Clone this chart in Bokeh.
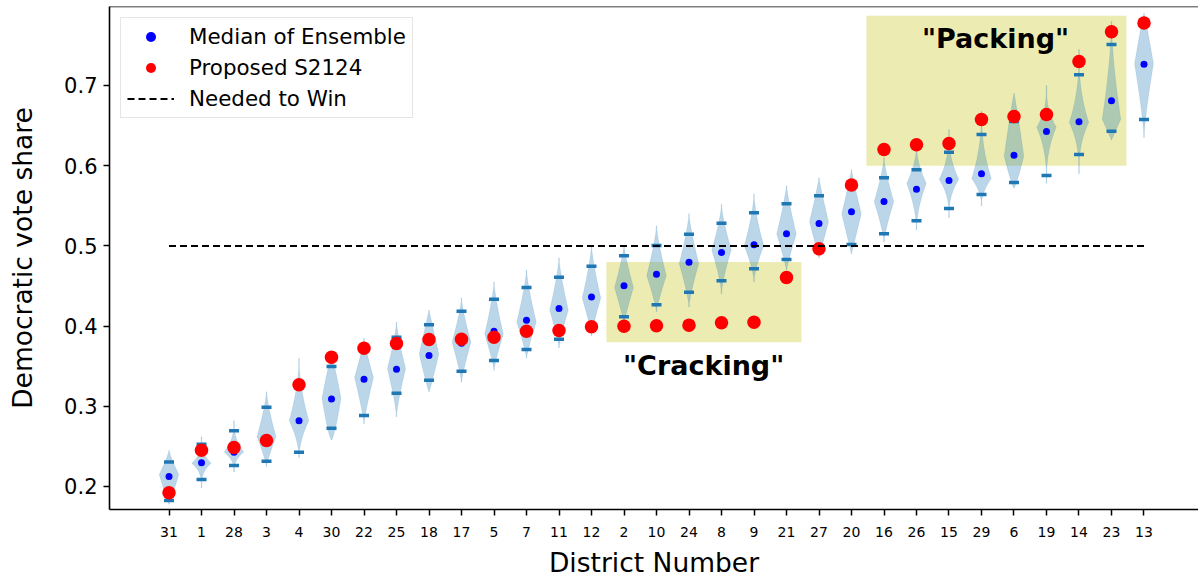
import numpy as np
from bokeh.plotting import figure
from bokeh.models import Range1d, FixedTicker, Span, Legend, LegendItem, Label
from bokeh.embed import file_html
from bokeh.resources import INLINE

# ---------------- data ----------------
districts = ["31", "1", "28", "3", "4", "30", "22", "25", "18", "17", "5", "7", "11", "12", "2",
             "10", "24", "8", "9", "21", "27", "20", "16", "26", "15", "29", "6", "19", "14", "23", "13"]

median = [0.2125, 0.2295, 0.2428, 0.2590, 0.2820, 0.3090, 0.3336, 0.3463, 0.3633, 0.3787, 0.3937,
          0.4074, 0.4219, 0.4363, 0.4502, 0.4647, 0.4797, 0.4918, 0.5014, 0.5151, 0.5279, 0.5427,
          0.5554, 0.5707, 0.5815, 0.5899, 0.6131, 0.6426, 0.6547, 0.6809, 0.7266]

proposed = [0.1921, 0.2453, 0.2486, 0.2574, 0.3268, 0.3612, 0.3725, 0.3783, 0.3833, 0.3837, 0.3862,
            0.3937, 0.3945, 0.3993, 0.3999, 0.4004, 0.4012, 0.4041, 0.4049, 0.4606, 0.4964, 0.5760,
            0.6202, 0.6261, 0.6277, 0.6576, 0.6613, 0.6638, 0.7299, 0.7669, 0.7778]

cap_lo = [0.1825, 0.2087, 0.2262, 0.2316, 0.2428, 0.2727, 0.2885, 0.3163, 0.3326, 0.3438, 0.3571,
          0.3708, 0.3837, 0.3970, 0.4116, 0.4266, 0.4423, 0.4565, 0.4714, 0.4830, 0.4990, 0.5017,
          0.5151, 0.5313, 0.5466, 0.5641, 0.5791, 0.5878, 0.6140, 0.6430, 0.6576]

cap_hi = [0.2305, 0.2527, 0.2694, 0.2989, 0.3260, 0.3496, 0.3700, 0.3862, 0.4016, 0.4186, 0.4336,
          0.4481, 0.4610, 0.4745, 0.4876, 0.5005, 0.5146, 0.5283, 0.5413, 0.5525, 0.5625, 0.5740,
          0.5849, 0.5949, 0.6168, 0.6389, 0.6551, 0.6620, 0.7133, 0.7511, 0.7760]

# violin outline description (extent, mode, half-width at mode, taper exponents)
v_lo = [0.178, 0.198, 0.218, 0.225, 0.236, 0.258, 0.278, 0.287, 0.318, 0.330, 0.345, 0.360, 0.373,
        0.388, 0.402, 0.418, 0.424, 0.440, 0.455, 0.470, 0.485, 0.490, 0.505, 0.520, 0.535, 0.550,
        0.572, 0.578, 0.590, 0.632, 0.635]
v_hi = [0.245, 0.262, 0.282, 0.318, 0.360, 0.362, 0.385, 0.405, 0.420, 0.435, 0.455, 0.470, 0.485,
        0.500, 0.500, 0.525, 0.540, 0.552, 0.565, 0.575, 0.585, 0.595, 0.610, 0.625, 0.645, 0.668,
        0.690, 0.700, 0.745, 0.780, 0.790]
v_mode = [0.215, 0.229, 0.243, 0.262, 0.282, 0.310, 0.336, 0.347, 0.365, 0.380, 0.390, 0.405, 0.420,
          0.435, 0.448, 0.463, 0.478, 0.495, 0.500, 0.515, 0.530, 0.540, 0.555, 0.578, 0.583, 0.584,
          0.612, 0.648, 0.654, 0.658, 0.727]
v_halfw = [0.30, 0.30, 0.30, 0.29, 0.30, 0.29, 0.29, 0.28, 0.30, 0.29, 0.285, 0.30, 0.285, 0.285,
           0.29, 0.30, 0.30, 0.30, 0.30, 0.30, 0.29, 0.30, 0.30, 0.30, 0.30, 0.30, 0.30, 0.30, 0.30,
           0.285, 0.29]
v_taper_dn = [0.9, 3.0, 2.5, 1.2, 1.8, 0.7, 1.2, 1.3, 0.9, 1.2, 1.2, 1.2, 1.2, 1.2, 1.2, 1.2, 1.3,
              1.4, 1.5, 1.1, 1.0, 1.0, 1.3, 1.8, 2.5, 2.0, 0.8, 2.5, 2.5, 1.0, 1.3]
v_taper_up = [1.2, 3.0, 2.5, 1.3, 1.8, 0.8, 1.2, 1.3, 1.0, 1.3, 1.3, 1.3, 1.3, 1.3, 1.2, 1.3, 1.3,
              1.4, 1.5, 1.2, 1.1, 1.1, 1.3, 1.8, 2.5, 2.2, 0.9, 2.5, 2.5, 1.6, 0.9]

ytick_values = [0.2, 0.3, 0.4, 0.5, 0.6, 0.7]
NEEDED = 0.5

crack_box = dict(left=13.46, right=19.46, bottom=0.38, top=0.48)
pack_box = dict(left=21.46, right=29.46, bottom=0.60, top=0.787)

# ---------------- figure ----------------
positions = list(range(len(districts)))
FONT = "DejaVu Sans"
Y0, Y1 = 0.17132, 0.7985

p = figure(width=1198, height=581,
           x_range=Range1d(-1.831, 31.677), y_range=Range1d(Y0, Y1),
           output_backend="svg", toolbar_location=None,
           min_border_left=109, min_border_right=0, min_border_top=6, min_border_bottom=72)
p.xgrid.visible = False
p.ygrid.visible = False
p.outline_line_color = None
p.background_fill_color = "white"

# highlight boxes
p.quad(left=[crack_box["left"], pack_box["left"]], right=[crack_box["right"], pack_box["right"]],
       bottom=[crack_box["bottom"], pack_box["bottom"]], top=[crack_box["top"], pack_box["top"]],
       fill_color="#bfbf00", fill_alpha=0.3, line_color=None)

# violins
xs, ys = [], []
for i in positions:
    lo, hi, mo, hw = v_lo[i], v_hi[i], v_mode[i], v_halfw[i]
    yd = np.linspace(lo, mo, 50)
    yu = np.linspace(mo, hi, 50)[1:]
    wd = hw * (1 - (mo - yd) / (mo - lo)) ** v_taper_dn[i]
    wu = hw * (1 - (yu - mo) / (hi - mo)) ** v_taper_up[i]
    yy = np.concatenate([yd, yu])
    ww = np.maximum(np.concatenate([wd, wu]), 0.01)
    xs.append(list(i + ww) + list(i - ww[::-1]))
    ys.append(list(yy) + list(yy[::-1]))
p.patches(xs, ys, fill_color="#1f77b4", fill_alpha=0.3, line_color="#1f77b4", line_alpha=0.12,
          line_width=1)

# caps
p.scatter(positions, cap_lo, marker="dash", size=10, line_width=3.5, color="#1f77b4")
p.scatter(positions, cap_hi, marker="dash", size=10, line_width=3.5, color="#1f77b4")

r_med = p.scatter(positions, median, size=7, color="blue", line_color=None)
r_prop = p.scatter(positions, proposed, size=13.5, color="red", line_color=None)
r_need = p.line([positions[0], positions[-1]], [NEEDED, NEEDED], line_dash="7 4", line_width=2,
                color="black")

# top spine
p.add_layout(Span(location=Y1, dimension="width", line_color="black", line_width=1.6))

# axes
p.xaxis.ticker = FixedTicker(ticks=positions)
p.xaxis.major_label_overrides = {i: d for i, d in enumerate(districts)}
p.yaxis.ticker = FixedTicker(ticks=ytick_values)
p.yaxis.major_label_overrides = {v: f"{v:.1f}" for v in ytick_values}
for ax in (p.xaxis[0], p.yaxis[0]):
    ax.axis_line_width = 1.6
    ax.axis_line_color = "black"
    ax.major_tick_in = 0
    ax.major_tick_out = 6
    ax.major_tick_line_width = 1.5
    ax.major_tick_line_color = "black"
    ax.minor_tick_line_color = None
    ax.major_label_text_font = FONT
    ax.major_label_text_color = "black"
    ax.axis_label_text_font = FONT
    ax.axis_label_text_font_style = "normal"
    ax.axis_label_text_font_size = "26.5px"
    ax.axis_label_text_color = "black"
p.xaxis.axis_label = "District Number"
p.yaxis.axis_label = "Democratic vote share"
p.xaxis.major_label_text_font_size = "14px"
p.yaxis.major_label_text_font_size = "21px"
p.xaxis.major_label_standoff = 11
p.yaxis.major_label_standoff = 6
p.xaxis.axis_label_standoff = 7
p.yaxis.axis_label_standoff = 23

# annotations
p.add_layout(Label(x=16.45, y=0.351, text='"Cracking"', text_align="center", text_baseline="middle",
                   text_font=FONT, text_font_size="27px", text_font_style="bold", text_color="black"))
p.add_layout(Label(x=25.43, y=0.7586, text='"Packing"', text_align="center", text_baseline="middle",
                   text_font=FONT, text_font_size="27px", text_font_style="bold", text_color="black"))

legend = Legend(items=[LegendItem(label="Median of Ensemble", renderers=[r_med]),
                       LegendItem(label="Proposed S2124", renderers=[r_prop]),
                       LegendItem(label="Needed to Win", renderers=[r_need])],
                location="top_left", margin=11, padding=6, spacing=6,
                glyph_height=25, glyph_width=47, label_height=25, label_standoff=15,
                label_text_font=FONT, label_text_font_size="21.4px", label_text_color="black",
                border_line_color="#cccccc", border_line_width=1.5, background_fill_alpha=0.8)
p.add_layout(legend)

open("out.html", "w").write(file_html(p, INLINE))
